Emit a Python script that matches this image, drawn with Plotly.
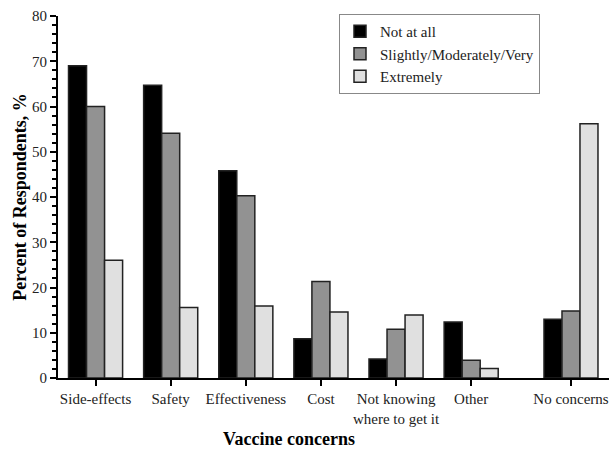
import plotly.graph_objects as go

categories = ["Side-effects", "Safety", "Effectiveness", "Cost",
              "Not knowing<br>where to get it", "Other", "No concerns"]
series_names = ["Not at all", "Slightly/Moderately/Very", "Extremely"]
not_at_all = [69.0, 64.7, 45.8, 8.7, 4.2, 12.4, 13.0]
slightly_mod_very = [60.0, 54.1, 40.3, 21.3, 10.8, 3.9, 14.8]
extremely = [26.0, 15.6, 15.9, 14.6, 13.9, 2.1, 56.2]

colors = ["#000000", "#929292", "#e0e0e0"]
values = [not_at_all, slightly_mod_very, extremely]

FONT = "Liberation Serif"

fig = go.Figure()
n_main = 6
for name, vals, col in zip(series_names, values, colors):
    fig.add_trace(go.Bar(
        x=categories[:n_main], y=vals[:n_main], name=name,
        marker=dict(color=col, line=dict(color="#222222", width=1.5)),
        xaxis="x", yaxis="y", legendgroup=name,
    ))
for name, vals, col in zip(series_names, values, colors):
    fig.add_trace(go.Bar(
        x=categories[n_main:], y=vals[n_main:], name=name,
        marker=dict(color=col, line=dict(color="#222222", width=1.5)),
        xaxis="x2", yaxis="y", legendgroup=name, showlegend=False,
    ))

W, H = 609, 449
L, R, T, B = 58, 0, 16, 66
pw = W - L - R
ph = H - T - B
split = (520 - L) / pw

axis_common = dict(
    showline=True, linecolor="#000000", linewidth=2,
    ticks="outside", ticklen=6, tickwidth=2, tickcolor="#000000",
    showgrid=False, zeroline=False,
    tickfont=dict(family=FONT, size=15, color="#222222"),
    type="category",
)

fig.update_layout(
    width=W, height=H,
    margin=dict(l=L, r=R, t=T, b=B),
    paper_bgcolor="white", plot_bgcolor="white",
    barmode="group", bargap=0.28, bargroupgap=0.0,
    font=dict(family=FONT, size=15, color="#222222"),
    xaxis=dict(domain=[0, split], range=[-0.5, 5.65], anchor="y",
               title=dict(text="<b>Vaccine concerns</b>", standoff=10,
                          font=dict(family=FONT, size=18, color="#000000")),
               **axis_common),
    xaxis2=dict(domain=[split, 1], range=[-0.68, 0.507], anchor="y",
                **axis_common),
    yaxis=dict(range=[0, 80], dtick=10,
               showline=True, linecolor="#000000", linewidth=2,
               ticks="outside", ticklen=6, tickwidth=2, tickcolor="#000000",
               minor=dict(dtick=2, ticks="outside", ticklen=4, tickwidth=1.5,
                          tickcolor="#000000"),
               showgrid=False, zeroline=False,
               tickfont=dict(family=FONT, size=15, color="#222222"),
               title=dict(text="<b>Percent of Respondents, %</b>", standoff=1,
                          font=dict(family=FONT, size=18, color="#000000"))),
    legend=dict(x=(339 - L) / pw, y=1 - (14 - T) / ph,
                xanchor="left", yanchor="top",
                bordercolor="#888888", borderwidth=1, bgcolor="white",
                font=dict(family=FONT, size=15, color="#222222"),
                tracegroupgap=0, traceorder="normal"),
    showlegend=True,
)

fig.write_html(
    "out.html",
    config={"displayModeBar": False},
    post_script="document.body.style.margin='0';"
                "document.documentElement.style.overflow='hidden';",
)
